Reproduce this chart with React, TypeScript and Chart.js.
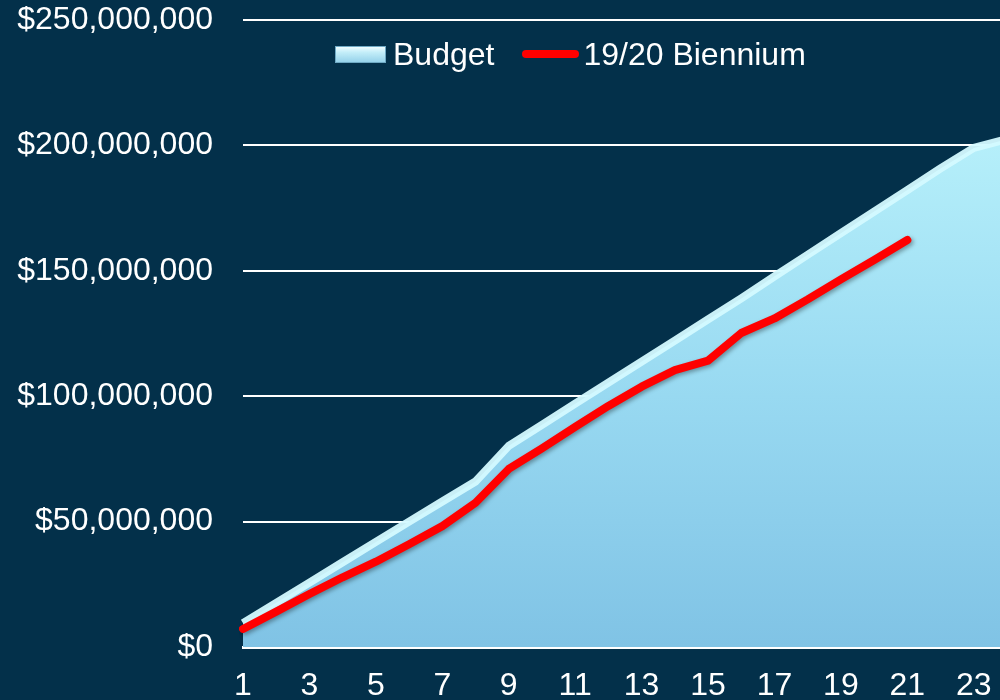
import React, { useEffect, useRef } from 'react';
import { Chart, registerables } from 'chart.js';

Chart.register(...registerables);

const categories = ['1', '2', '3', '4', '5', '6', '7', '8', '9', '10', '11', '12', '13', '14', '15', '16', '17', '18', '19', '20', '21', '22', '23', '24'];
const tickLabels = ['1', '', '3', '', '5', '', '7', '', '9', '', '11', '', '13', '', '15', '', '17', '', '19', '', '21', '', '23', ''];

const budgetValues = [
  9500000, 17600000, 25700000, 33800000, 41900000, 50000000, 58000000, 66000000,
  80200000, 88600000, 97000000, 105400000, 113800000, 122200000, 130600000, 139000000,
  147800000, 156400000, 165000000, 173600000, 182200000, 190800000, 199000000, 202500000,
];

const bienniumValues = [
  7200000, 14100000, 21100000, 27800000, 34000000, 41000000, 48200000, 57500000,
  71000000, 79200000, 87800000, 96100000, 103800000, 110400000, 114200000, 125200000,
  131000000, 138600000, 146600000, 154300000, 162300000,
];

const yTicks = [0, 50000000, 100000000, 150000000, 200000000, 250000000];

const seriesNames = ['Budget', '19/20 Biennium'];

const FONT = "'Liberation Sans', Arial, sans-serif";
const BG = '#03304A';

const shadowPlugin = {
  id: 'lineShadow',
  beforeDatasetDraw(chart: any, args: any) {
    const ctx = chart.ctx;
    ctx.save();
    if (args.index === 1) {
      ctx.shadowColor = 'rgba(0,0,0,0.35)';
      ctx.shadowBlur = 4;
      ctx.shadowOffsetX = 2;
      ctx.shadowOffsetY = 2;
    }
  },
  afterDatasetDraw(chart: any) {
    chart.ctx.restore();
  },
};

export default function App() {
  const canvasRef = useRef<HTMLCanvasElement | null>(null);

  useEffect(() => {
    if (!canvasRef.current) return;
    const chart = new Chart(canvasRef.current, {
      type: 'line',
      data: {
        labels: categories,
        datasets: [
          {
            label: seriesNames[0],
            data: budgetValues,
            fill: 'origin',
            order: 1,
            borderColor: 'rgba(212,250,255,0.95)',
            borderWidth: 8,
            borderJoinStyle: 'round',
            pointRadius: 0,
            tension: 0,
            backgroundColor: (ctx: any) => {
              const area = ctx.chart.chartArea;
              if (!area) return '#A0DDF3';
              const g = ctx.chart.ctx.createLinearGradient(0, area.top, 0, area.bottom);
              g.addColorStop(0, '#C2F6FE');
              g.addColorStop(0.2, '#B5EFFA');
              g.addColorStop(0.6, '#98D9F1');
              g.addColorStop(1, '#80C3E5');
              return g;
            },
          },
          {
            label: seriesNames[1],
            data: bienniumValues,
            fill: false,
            order: 0,
            borderColor: '#FF0000',
            borderWidth: 8,
            borderCapStyle: 'round',
            borderJoinStyle: 'round',
            pointRadius: 0,
            tension: 0,
          },
        ],
      },
      options: {
        responsive: false,
        animation: false,
        devicePixelRatio: 1,
        layout: { padding: { top: 20, right: 5, left: 0, bottom: 0 } },
        plugins: {
          legend: { display: false },
          tooltip: { enabled: false },
        },
        scales: {
          x: {
            type: 'category',
            offset: false,
            grid: { display: false, drawTicks: false },
            border: { display: true, color: '#FFFFFF', width: 3 },
            ticks: {
              color: '#FFFFFF',
              font: { family: FONT, size: 32 },
              autoSkip: false,
              maxRotation: 0,
              padding: 20,
              callback: (_v: any, i: number) => tickLabels[i],
            },
            afterFit: (s: any) => {
              s.height = 53;
              s.paddingLeft = 0;
              s.paddingRight = 0;
            },
          },
          y: {
            min: 0,
            max: 250000000,
            afterBuildTicks: (s: any) => {
              s.ticks = yTicks.map((v) => ({ value: v }));
            },
            grid: { color: '#FFFFFF', lineWidth: 2, drawTicks: false },
            border: { display: false },
            ticks: {
              color: '#FFFFFF',
              font: { family: FONT, size: 32 },
              padding: 30,
              callback: (v: any) => '$' + Number(v).toLocaleString('en-US'),
            },
            afterFit: (s: any) => {
              s.width = 243;
              s.paddingTop = 0;
              s.paddingBottom = 0;
            },
          },
        },
      },
      plugins: [shadowPlugin],
    });
    return () => chart.destroy();
  }, []);

  const textStyle: React.CSSProperties = {
    color: '#FFFFFF',
    fontFamily: FONT,
    fontSize: 32,
    lineHeight: '32px',
    whiteSpace: 'nowrap',
  };

  return (
    <div
      style={{
        position: 'fixed',
        left: 0,
        top: 0,
        width: 1000,
        height: 700,
        overflow: 'hidden',
        background: BG,
      }}
    >
      <canvas ref={canvasRef} width={1012} height={700} style={{ display: 'block', width: 1012, height: 700 }} />
      <div
        style={{
          position: 'absolute',
          left: 335,
          top: 38,
          height: 32,
          display: 'flex',
          alignItems: 'center',
        }}
      >
        <div
          style={{
            width: 49,
            height: 15,
            border: '1px solid #6FA9C4',
            background: 'linear-gradient(to bottom, #EEFCFF 0%, #C4EEF9 35%, #96D2EA 100%)',
            marginRight: 7,
          }}
        />
        <span style={textStyle}>{seriesNames[0]}</span>
        <div
          style={{
            width: 57,
            height: 8,
            borderRadius: 4,
            background: '#FF0000',
            marginLeft: 28,
            marginRight: 4,
          }}
        />
        <span style={textStyle}>{seriesNames[1]}</span>
      </div>
    </div>
  );
}
